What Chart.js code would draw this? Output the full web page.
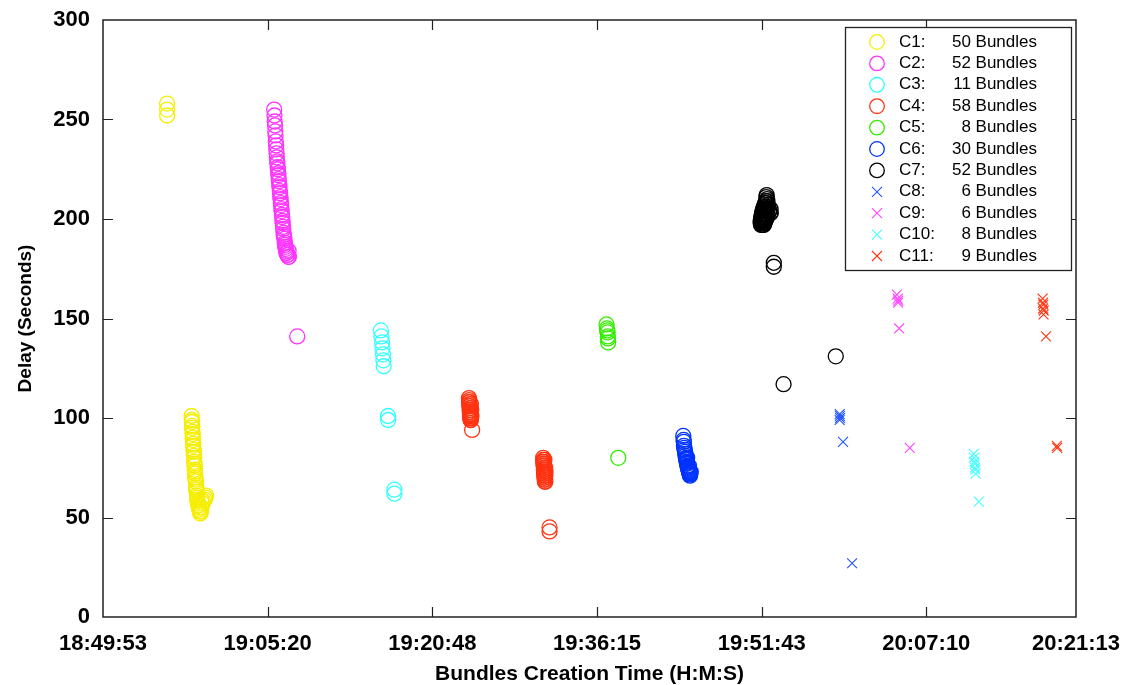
<!DOCTYPE html>
<html><head><meta charset="utf-8">
<script src="https://cdn.jsdelivr.net/npm/chart.js@4.4.0/dist/chart.umd.min.js"></script>
<style>html,body{margin:0;padding:0;background:#fff}#wrap{width:1124px;height:685px;position:relative}</style>
</head><body><div id="wrap"><canvas id="c" width="1124" height="685"></canvas></div>
<script>
// ---------- data ----------
const startTime = '18:49:53';
const xTickLabels = ['18:49:53','19:05:20','19:20:48','19:36:15','19:51:43','20:07:10','20:21:13'];
const yTickValues = [0,50,100,150,200,250,300];
const seriesNames = ['C1','C2','C3','C4','C5','C6','C7','C8','C9','C10','C11'];
const bundleCounts = [50,52,11,58,8,30,52,6,6,8,9];
const markerKinds = ['circle','circle','circle','circle','circle','circle','circle','crossRot','crossRot','crossRot','crossRot'];
const seriesColors = ['#f5ee00','#ff33ff','#33ffff','#ff3311','#33ee00','#0033ff','#000000','#2255ff','#ff44ff','#44ffff','#ff3311'];

// [seconds after 18:49:53, delay in seconds]
const c1 = [[361,258],[361,255],[361,252],
 [499,101],[500,99],[501,98],[502,96],[502,95],[504,93],[505,92],[505,90],[507,89],[508,87],
 [508,86],[510,84],[511,83],[512,81],[513,80],[514,78],[515,77],[516,76],[517,74],[518,73],
 [519,72],[520,70],[521,69],[523,68],[524,66],[525,65],[526,64],[527,63],[529,61],[530,60],
 [531,59],[533,58],[535,57],[537,56],[539,56],[541,55],[543,54],[545,53],[548,52],[552,53],
 [555,55],[560,57],[566,58],[572,59],[577,60],[581,61],[553,59]];
const c2 = [[964,255],[966,252],[967,249],[969,247],[970,244],[972,242],[973,239],[975,237],[976,235],[978,233],
 [979,231],[981,229],[982,228],[984,226],[985,225],[987,223],[988,222],[990,220],[991,219],[993,217],
 [994,216],[996,214],[997,213],[999,211],[1000,210],[1002,208],[1003,207],[1005,205],[1006,204],[1008,202],
 [1009,201],[1011,199],[1012,198],[1014,196],[1015,195],[1017,193],[1018,192],[1020,191],[1022,190],[1024,188],
 [1025,187],[1027,186],[1029,185],[1031,184],[1033,183],[1035,183],[1038,182],[1041,182],[1044,181],[1047,181],
 [1045,184],[1094,141]];
const c3 = [[1565,144],[1568,141],[1572,138],[1574,135],[1577,132],[1579,129],[1581,126],[1605,101],[1606,99],[1641,64],[1641,62]];
const c4 = [[2061,110],[2063,109],[2062,108],[2064,108],[2063,107],[2065,106],[2064,106],[2066,105],[2065,104],[2067,104],
 [2066,103],[2068,103],[2067,102],[2069,102],[2068,101],[2070,101],[2069,100],[2071,100],[2070,99],[2072,99],
 [2071,105],[2073,102],[2072,107],[2074,104],[2073,100],[2075,101],[2079,94],
 [2479,80],[2481,79],[2480,78],[2482,78],[2481,77],[2483,76],[2482,76],[2484,75],[2483,74],[2485,74],
 [2484,73],[2486,73],[2485,72],[2487,72],[2486,71],[2488,71],[2487,70],[2489,70],[2488,69],[2490,69],
 [2489,68],[2491,68],[2490,75],[2492,73],[2491,71],[2484,77],[2486,79],[2488,74],[2490,72],
 [2515,45],[2515,43]];
const c5 = [[2836,147],[2838,145],[2840,144],[2842,143],[2843,141],[2844,140],[2845,138],[2902,80]];
const c6 = [[3268,91],[3270,89],[3271,88],[3272,86],[3274,85],[3276,84],[3278,83],[3280,82],[3281,81],[3283,80],
 [3284,79.5],[3286,79],[3287,78],[3289,77.5],[3290,77],[3292,76],[3293,75.5],[3295,75],[3296,74.5],[3298,74],
 [3299,73.5],[3301,73],[3302,72.5],[3304,72],[3305,71.5],[3306,71],[3308,72],[3310,73],[3290,80],[3300,76]];
const c7 = [[3738,212],[3736,211],[3740,210],[3734,209],[3742,209],[3730,208],[3738,208],[3726,207],[3744,207],[3722,206],
 [3734,206],[3748,206],[3718,205],[3730,205],[3742,205],[3715,204],[3726,204],[3738,204],[3752,204],[3712,203],
 [3722,203],[3734,203],[3758,203],[3710,202],[3720,202],[3730,202],[3745,202],[3761,203],[3708,201],[3716,201],
 [3726,201],[3740,201],[3706,200],[3714,200],[3724,200],[3735,200],[3704,199],[3712,199],[3720,199],[3730,199],
 [3704,198],[3710,198],[3718,198],[3726,198],[3706,197],[3714,197],[3722,197],[3760,205],
 [3778,178],[3778,176],[4127,131],[3833,117]];
const c8 = [[4149,102],[4150,101],[4151,100],[4149,99],[4168,88],[4219,27]];
const c9 = [[4471,162],[4476,160],[4479,159],[4478,158],[4484,145],[4544,85]];
const c10 = [[4904,82],[4906,80],[4908,78],[4910,77],[4911,75],[4913,74],[4915,72],[4933,58]];
const c11 = [[5292,160],[5294,158],[5296,157],[5295,155],[5298,154],[5297,152],[5311,141],[5372,86],[5374,85]];
const seriesData = [c1,c2,c3,c4,c5,c6,c7,c8,c9,c10,c11];

// ---------- helpers ----------
function toSec(s){const p=s.split(':').map(Number);return p[0]*3600+p[1]*60+p[2];}
const t0 = toSec(startTime);
const xTickValues = xTickLabels.map(l => toSec(l) - t0);
const FONT = '"Liberation Sans", Arial, Helvetica, sans-serif';

const datasets = seriesData.map((d,i) => ({
  label: seriesNames[i],
  data: d.map(p => ({x:p[0], y:p[1]})),
  showLine: false,
  pointStyle: markerKinds[i],
  pointRadius: markerKinds[i]==='circle' ? 7.5 : 7,
  pointBorderWidth: markerKinds[i]==='circle' ? 1.3 : 1.1,
  pointBorderColor: seriesColors[i],
  pointBackgroundColor: 'rgba(0,0,0,0)',
  borderColor: seriesColors[i],
  backgroundColor: 'rgba(0,0,0,0)',
  order: seriesData.length - i
}));

const framePlugin = {
  id: 'frame',
  beforeDatasetsDraw(chart){
    const {ctx, chartArea:{left,right,top,bottom}, scales:{x,y}} = chart;
    ctx.save();
    ctx.strokeStyle = '#222';
    ctx.lineWidth = 1.2;
    ctx.beginPath();
    x.ticks.forEach(t => {
      const px = Math.round(x.getPixelForValue(t.value)) + 0.5;
      if (px > left + 2 && px < right - 2) {
        ctx.moveTo(px, bottom); ctx.lineTo(px, bottom - 10);
        ctx.moveTo(px, top); ctx.lineTo(px, top + 10);
      }
    });
    y.ticks.forEach(t => {
      const py = Math.round(y.getPixelForValue(t.value)) + 0.5;
      if (py > top + 2 && py < bottom - 2) {
        ctx.moveTo(left, py); ctx.lineTo(left + 10, py);
        ctx.moveTo(right, py); ctx.lineTo(right - 10, py);
      }
    });
    ctx.stroke();
    ctx.lineWidth = 1.5;
    ctx.strokeRect(left, top, right - left, bottom - top);
    ctx.restore();
  },
  afterDraw(chart){
    const ctx = chart.ctx;
    const bx = 845, by = 27, bw = 226, bh = 243;
    ctx.save();
    ctx.fillStyle = '#fff';
    ctx.fillRect(bx, by, bw, bh);
    ctx.strokeStyle = '#222';
    ctx.lineWidth = 1.3;
    ctx.strokeRect(bx + 0.5, by + 0.5, bw, bh);
    ctx.font = '17px ' + FONT;
    ctx.textBaseline = 'middle';
    ctx.fillStyle = '#000';
    seriesNames.forEach((n,i) => {
      const cy = 42 + i * 21.4;
      const mx = 877;
      ctx.strokeStyle = seriesColors[i];
      ctx.beginPath();
      if (markerKinds[i] === 'circle') {
        ctx.lineWidth = 1.3;
        ctx.arc(mx, cy, 7.3, 0, Math.PI * 2);
      } else {
        ctx.lineWidth = 1.1;
        const r = 5;
        ctx.moveTo(mx - r, cy - r); ctx.lineTo(mx + r, cy + r);
        ctx.moveTo(mx + r, cy - r); ctx.lineTo(mx - r, cy + r);
      }
      ctx.stroke();
      ctx.textAlign = 'left';
      ctx.fillText(n + ':', 899, cy);
      ctx.textAlign = 'right';
      ctx.fillText(bundleCounts[i] + ' Bundles', 1037, cy);
    });
    ctx.restore();
  }
};

new Chart(document.getElementById('c'), {
  type: 'scatter',
  data: { datasets },
  options: {
    responsive: false,
    animation: false,
    devicePixelRatio: 1,
    events: [],
    layout: { padding: { top: 20, right: 48, left: 0, bottom: 0 } },
    plugins: { legend: { display: false }, tooltip: { enabled: false } },
    scales: {
      x: {
        type: 'linear',
        min: 0,
        max: xTickValues[xTickValues.length - 1],
        afterBuildTicks: s => { s.ticks = xTickValues.map(v => ({value: v})); },
        afterFit: s => { s.height = 68; s.paddingLeft = 0; s.paddingRight = 0; },
        grid: { display: false, drawTicks: false },
        border: { display: false },
        ticks: {
          autoSkip: false, maxRotation: 0, padding: 14, color: '#000',
          font: { family: FONT, size: 22, weight: 'bold' },
          callback: (v, i) => xTickLabels[i]
        },
        title: { display: true, text: 'Bundles Creation Time (H:M:S)', color: '#000',
          font: { family: FONT, size: 21, weight: 'bold', lineHeight: 1.0 }, padding: { top: 0, bottom: 0 } }
      },
      y: {
        min: 0, max: 300,
        afterBuildTicks: s => { s.ticks = yTickValues.map(v => ({value: v})); },
        afterFit: s => { s.width = 103; s.paddingTop = 0; s.paddingBottom = 0; },
        grid: { display: false, drawTicks: false },
        border: { display: false },
        ticks: { padding: 13, color: '#000', font: { family: FONT, size: 22, weight: 'bold' } },
        title: { display: true, text: 'Delay (Seconds)', color: '#000',
          font: { family: FONT, size: 19, weight: 'bold' }, padding: { top: 14, bottom: 0 } }
      }
    }
  },
  plugins: [framePlugin]
});
</script>
</body></html>
